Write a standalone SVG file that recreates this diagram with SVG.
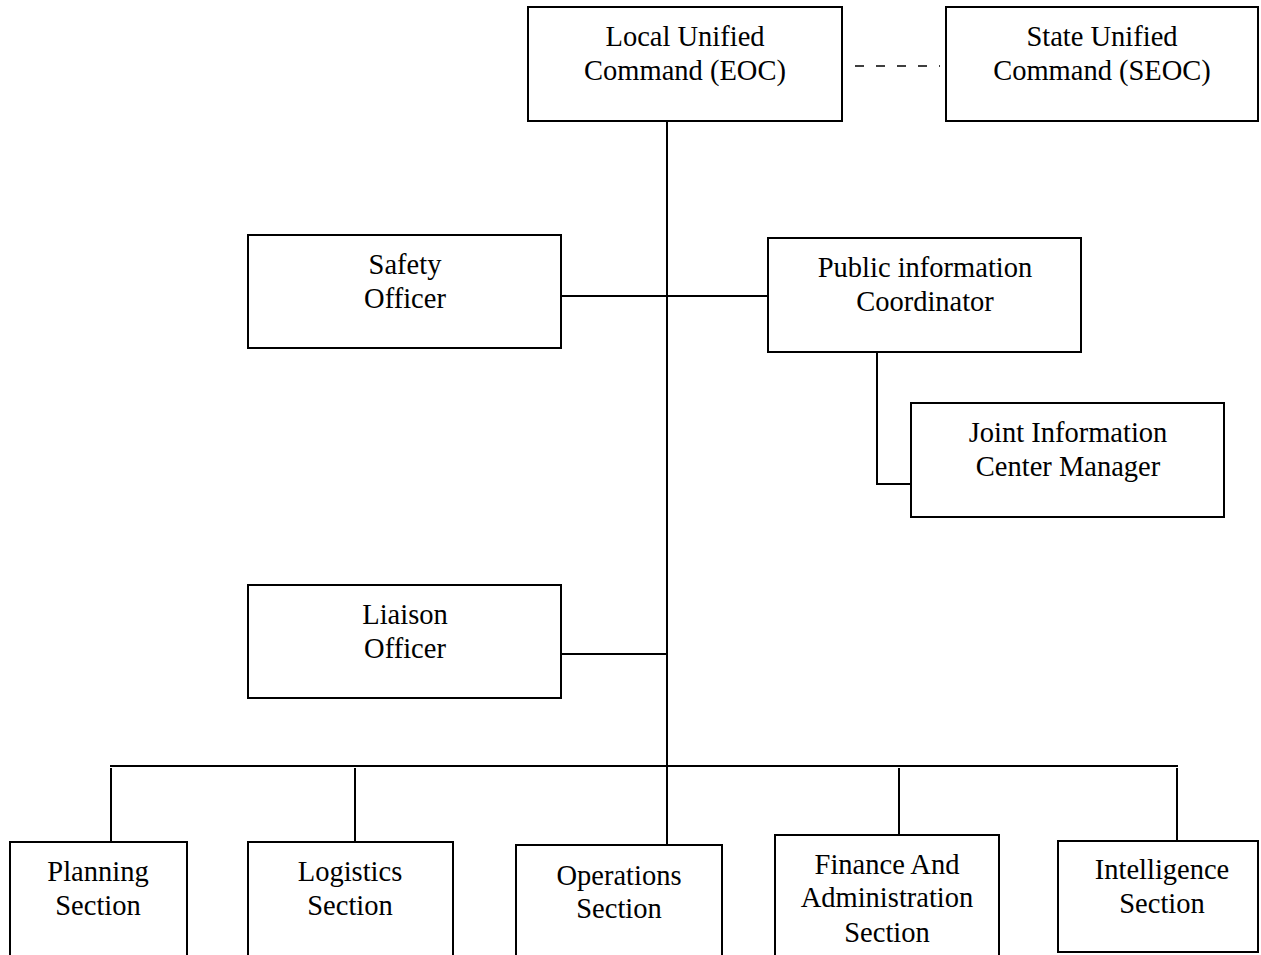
<svg xmlns="http://www.w3.org/2000/svg" width="1261" height="955" viewBox="0 0 1261 955">
  <style>
    .box { fill: #ffffff; stroke: #000000; stroke-width: 2; }
    .link { fill: none; stroke: #000000; stroke-width: 2; }
    .dash { fill: none; stroke: #000000; stroke-width: 1.5; stroke-dasharray: 9 12; }
    text { font-family: "Liberation Serif", "Times New Roman", serif; font-size: 28.5px; fill: #000000; text-anchor: middle; }
  </style>
  <rect x="0" y="0" width="1261" height="955" fill="#ffffff"/>

  <!-- connectors -->
  <g id="connectors">
    <line class="dash" x1="855" y1="66" x2="940" y2="66"/>
    <line class="link" x1="667" y1="121" x2="667" y2="845"/>
    <line class="link" x1="561" y1="296" x2="768" y2="296"/>
    <polyline class="link" points="877,352 877,484 911,484"/>
    <line class="link" x1="561" y1="654" x2="667" y2="654"/>
    <line class="link" x1="110" y1="766" x2="1178" y2="766"/>
    <line class="link" x1="111" y1="768" x2="111" y2="842"/>
    <line class="link" x1="355" y1="768" x2="355" y2="842"/>
    <line class="link" x1="899" y1="768" x2="899" y2="835"/>
    <line class="link" x1="1177" y1="768" x2="1177" y2="841"/>
  </g>

  <g id="local-command">
    <rect class="box" x="528" y="7" width="314" height="114"/>
    <text x="685" y="46">Local Unified</text>
    <text x="685" y="80">Command (EOC)</text>
  </g>

  <g id="state-command">
    <rect class="box" x="946" y="7" width="312" height="114"/>
    <text x="1102" y="46">State Unified</text>
    <text x="1102" y="80">Command (SEOC)</text>
  </g>

  <g id="safety-officer">
    <rect class="box" x="248" y="235" width="313" height="113"/>
    <text x="405" y="274">Safety</text>
    <text x="405" y="308">Officer</text>
  </g>

  <g id="public-information">
    <rect class="box" x="768" y="238" width="313" height="114"/>
    <text x="925" y="277">Public information</text>
    <text x="925" y="311">Coordinator</text>
  </g>

  <g id="jic-manager">
    <rect class="box" x="911" y="403" width="313" height="114"/>
    <text x="1068" y="442">Joint Information</text>
    <text x="1068" y="476">Center Manager</text>
  </g>

  <g id="liaison-officer">
    <rect class="box" x="248" y="585" width="313" height="113"/>
    <text x="405" y="624">Liaison</text>
    <text x="405" y="658">Officer</text>
  </g>

  <g id="planning-section">
    <rect class="box" x="10" y="842" width="177" height="130"/>
    <text x="98" y="881">Planning</text>
    <text x="98" y="915">Section</text>
  </g>

  <g id="logistics-section">
    <rect class="box" x="248" y="842" width="205" height="130"/>
    <text x="350" y="881">Logistics</text>
    <text x="350" y="915">Section</text>
  </g>

  <g id="operations-section">
    <rect class="box" x="516" y="845" width="206" height="130"/>
    <text x="619" y="885">Operations</text>
    <text x="619" y="918">Section</text>
  </g>

  <g id="finance-section">
    <rect class="box" x="775" y="835" width="224" height="140"/>
    <text x="887" y="874">Finance And</text>
    <text x="887" y="907">Administration</text>
    <text x="887" y="942">Section</text>
  </g>

  <g id="intelligence-section">
    <rect class="box" x="1058" y="841" width="200" height="111"/>
    <text x="1162" y="879">Intelligence</text>
    <text x="1162" y="913">Section</text>
  </g>
</svg>
